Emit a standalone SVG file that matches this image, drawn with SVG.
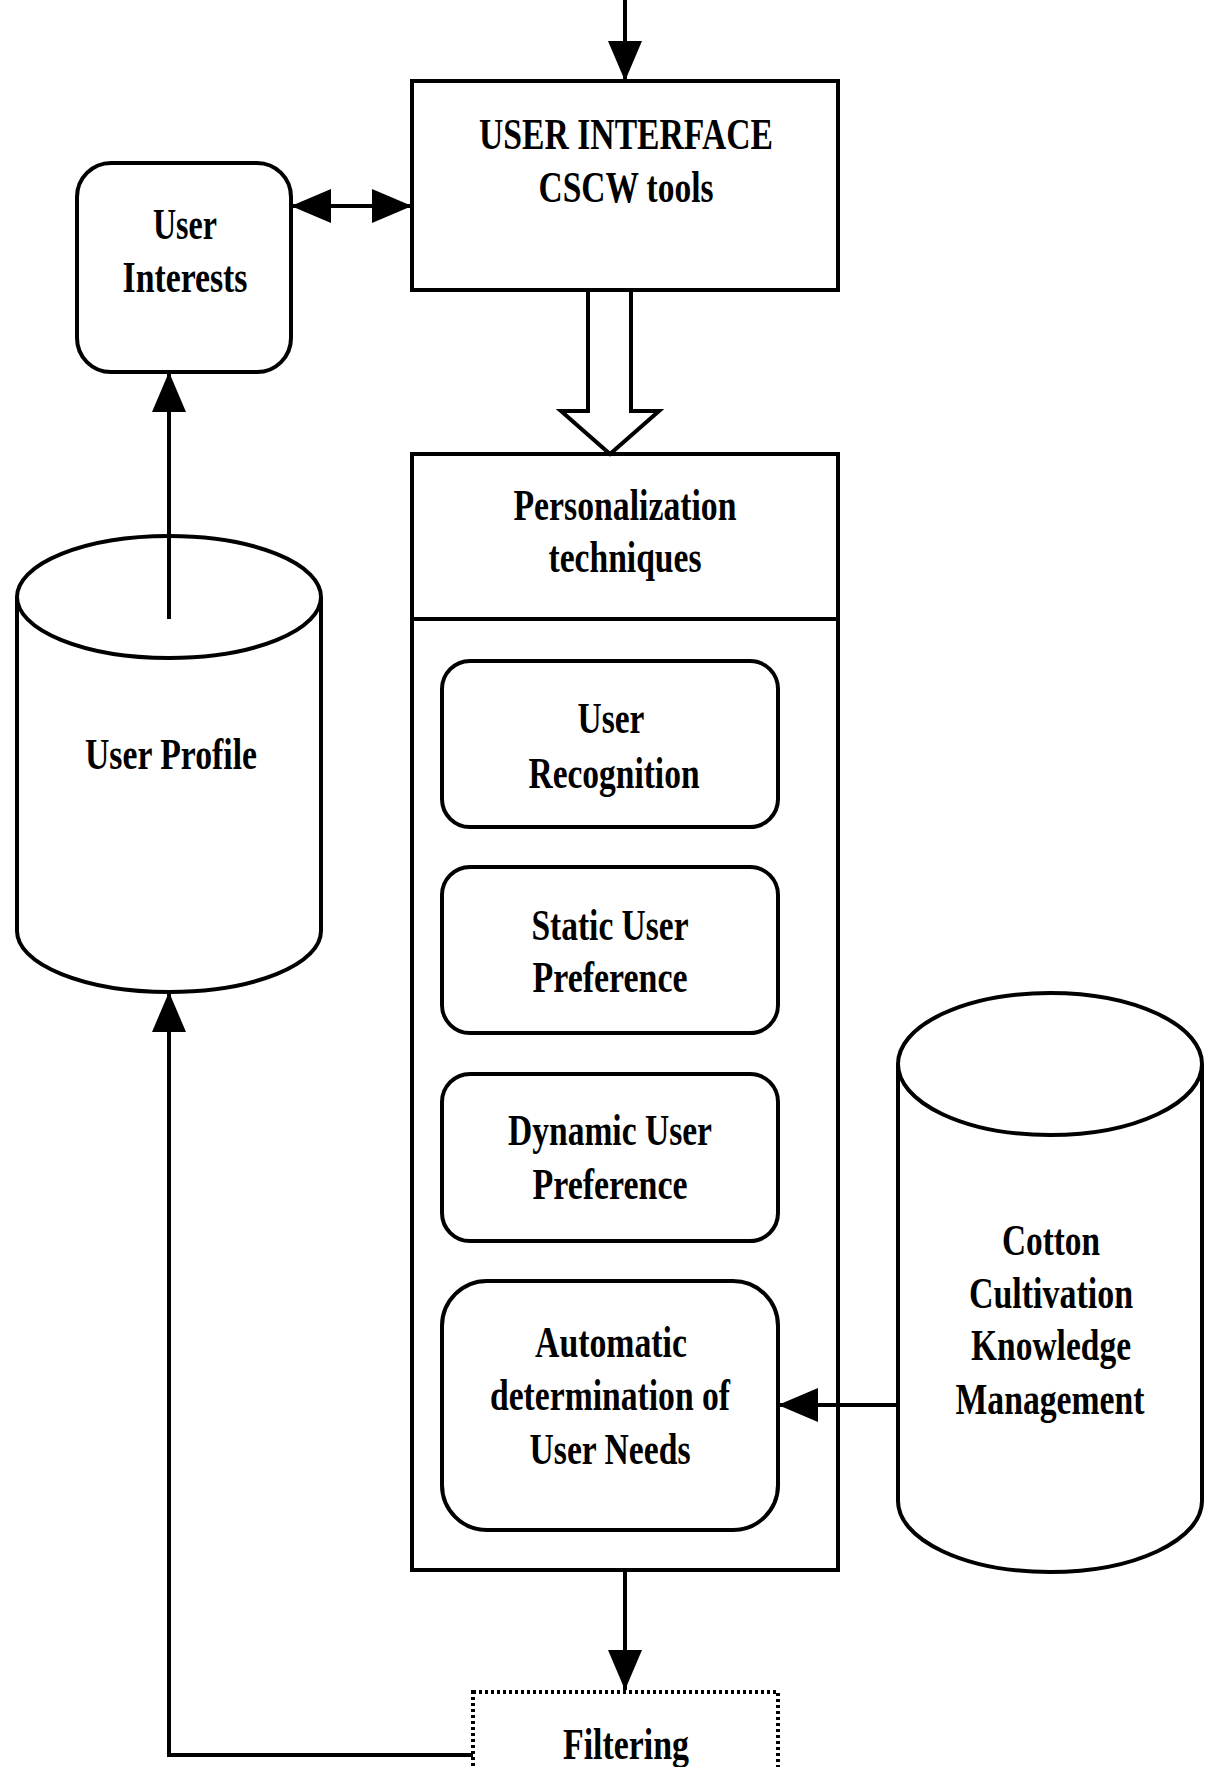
<svg xmlns="http://www.w3.org/2000/svg" width="1208" height="1767" viewBox="0 0 1208 1767">
<style>
.box{fill:#fff;stroke:#000;stroke-width:4}
.ln{fill:none;stroke:#000;stroke-width:4}
.t{font-family:"Liberation Serif","Times New Roman",serif;font-weight:bold;font-size:44px;text-anchor:middle;fill:#000}
</style>
<defs>
<marker id="ah" markerUnits="userSpaceOnUse" markerWidth="40" markerHeight="34" refX="40" refY="17" orient="auto-start-reverse" viewBox="0 0 40 34">
<path d="M0,0 L40,17 L0,34 Z" fill="#000"/>
</marker>
</defs>
<rect width="1208" height="1767" fill="#fff"/>
<g id="user-interface">
<rect class="box" x="412" y="81" width="426" height="209"/>
<text class="t" x="626" y="149" textLength="294" lengthAdjust="spacingAndGlyphs">USER INTERFACE</text>
<text class="t" x="626" y="202" textLength="175" lengthAdjust="spacingAndGlyphs">CSCW tools</text>
</g>
<g id="user-interests">
<rect class="box" x="77" y="163" width="214" height="209" rx="34"/>
<text class="t" x="185" y="239" textLength="64" lengthAdjust="spacingAndGlyphs">User</text>
<text class="t" x="185" y="292" textLength="125" lengthAdjust="spacingAndGlyphs">Interests</text>
</g>
<g id="user-profile">
<path class="box" d="M17,597 L17,931 A152,61 0 0 0 321,931 L321,597"/>
<ellipse class="box" cx="169" cy="597" rx="152" ry="61"/>
<text class="t" x="171" y="769" textLength="172" lengthAdjust="spacingAndGlyphs">User Profile</text>
</g>
<g id="personalization">
<rect class="box" x="412" y="454" width="426" height="1116"/>
<line class="ln" x1="412" y1="619" x2="838" y2="619"/>
<text class="t" x="625" y="520" textLength="223" lengthAdjust="spacingAndGlyphs">Personalization</text>
<text class="t" x="625" y="572" textLength="153" lengthAdjust="spacingAndGlyphs">techniques</text>
</g>
<g id="user-recognition">
<rect class="box" x="442" y="661" width="336" height="166" rx="28"/>
<text class="t" x="611" y="733" textLength="67" lengthAdjust="spacingAndGlyphs">User</text>
<text class="t" x="614" y="788" textLength="171" lengthAdjust="spacingAndGlyphs">Recognition</text>
</g>
<g id="static-pref">
<rect class="box" x="442" y="867" width="336" height="166" rx="28"/>
<text class="t" x="610" y="940" textLength="157" lengthAdjust="spacingAndGlyphs">Static User</text>
<text class="t" x="610" y="992" textLength="155" lengthAdjust="spacingAndGlyphs">Preference</text>
</g>
<g id="dynamic-pref">
<rect class="box" x="442" y="1074" width="336" height="167" rx="28"/>
<text class="t" x="610" y="1145" textLength="204" lengthAdjust="spacingAndGlyphs">Dynamic User</text>
<text class="t" x="610" y="1199" textLength="155" lengthAdjust="spacingAndGlyphs">Preference</text>
</g>
<g id="automatic">
<rect class="box" x="442" y="1281" width="336" height="249" rx="45"/>
<text class="t" x="611" y="1357" textLength="152" lengthAdjust="spacingAndGlyphs">Automatic</text>
<text class="t" x="610" y="1410" textLength="240" lengthAdjust="spacingAndGlyphs">determination of</text>
<text class="t" x="610" y="1464" textLength="161" lengthAdjust="spacingAndGlyphs">User Needs</text>
</g>
<g id="cotton-km">
<path class="box" d="M898,1064 L898,1501 A152,71 0 0 0 1202,1501 L1202,1064"/>
<ellipse class="box" cx="1050" cy="1064" rx="152" ry="71"/>
<text class="t" x="1051" y="1255" textLength="98" lengthAdjust="spacingAndGlyphs">Cotton</text>
<text class="t" x="1051" y="1308" textLength="164" lengthAdjust="spacingAndGlyphs">Cultivation</text>
<text class="t" x="1051" y="1360" textLength="160" lengthAdjust="spacingAndGlyphs">Knowledge</text>
<text class="t" x="1050" y="1414" textLength="189" lengthAdjust="spacingAndGlyphs">Management</text>
</g>
<g id="filtering">
<rect x="473" y="1692" width="305" height="140" fill="#fff" stroke="#000" stroke-width="4" stroke-dasharray="3 3"/>
<text class="t" x="626" y="1759" textLength="126" lengthAdjust="spacingAndGlyphs">Filtering</text>
</g>
<g id="connectors">
<line class="ln" x1="625" y1="0" x2="625" y2="81" marker-end="url(#ah)"/>
<line class="ln" x1="291" y1="206" x2="412" y2="206" stroke-width="6" marker-start="url(#ah)" marker-end="url(#ah)"/>
<path d="M588,292 L588,411 L561,411 L610,454 L659,411 L631,411 L631,292" fill="#fff" stroke="#000" stroke-width="4"/>
<line class="ln" x1="169" y1="619" x2="169" y2="372" marker-end="url(#ah)"/>
<path class="ln" d="M473,1755 L169,1755 L169,992" marker-end="url(#ah)"/>
<line class="ln" x1="625" y1="1570" x2="625" y2="1690" marker-end="url(#ah)"/>
<line class="ln" x1="898" y1="1405" x2="778" y2="1405" stroke-width="5" marker-end="url(#ah)"/>
</g>
</svg>
